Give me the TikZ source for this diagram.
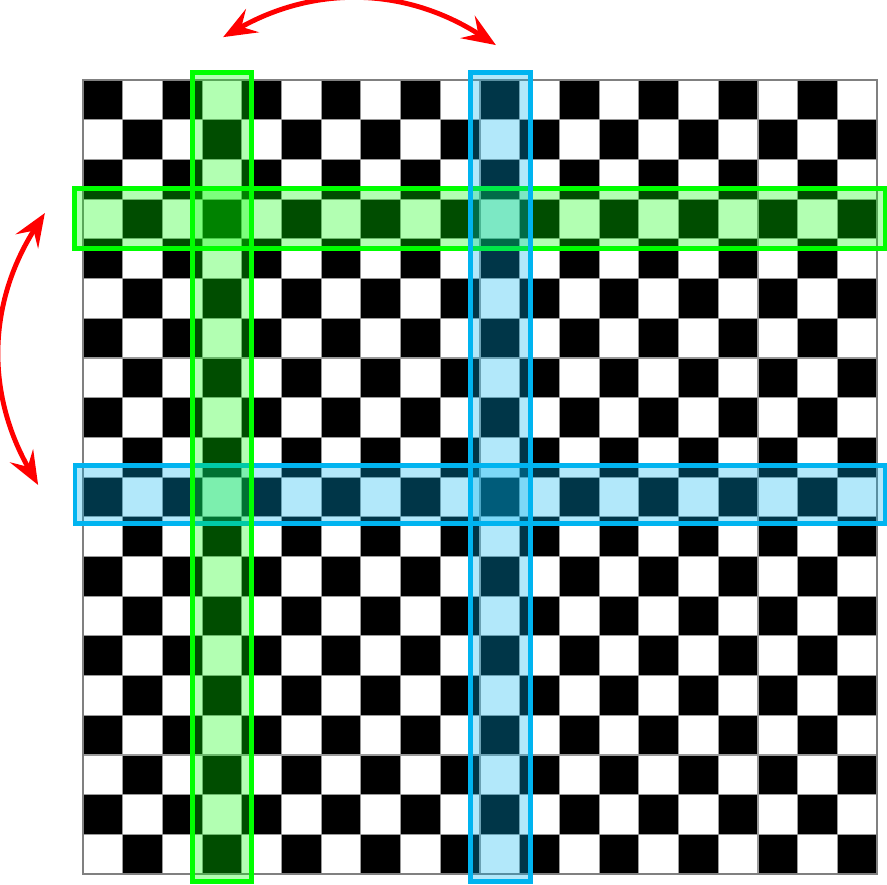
\documentclass[tikz,border=0pt]{standalone}
\usetikzlibrary{arrows.meta}
\definecolor{vert}{RGB}{0,255,0}
\definecolor{ciel}{RGB}{0,180,240}
\definecolor{rouge}{RGB}{255,0,0}
\definecolor{gris}{RGB}{128,128,128}

\begin{document}
\begin{tikzpicture}[x=0.5cm,y=0.5cm,
		bande/.style={line width=1.75pt,fill opacity=0.3},
		echange/.style={rouge,line width=1.75pt,>={Stealth[length=12pt,width=9.5pt,inset=4.5pt]},<->}]
				\useasboundingbox (-2.09,-20.25) rectangle (20.25,2.015);
				\foreach \i in {0,...,19}
				\foreach \j in {0,...,19}{
					\pgfmathparse{int(mod(\i+\j,2))}
					\ifnum\pgfmathresult=0 \fill[black] (\i,-\j) rectangle ++(1,-1);\fi
				}
				\foreach \x in {1,...,19}
				\draw[gris!80,line width=0.4pt] (\x,0)--(\x,-20);
				\foreach \y in {1,...,19}
				\draw[gris!80,line width=0.4pt] (0,-\y)--(20,-\y);
				\draw[gris,line width=0.7pt] (0,0) rectangle (20,-20);
				
				\draw[bande,vert,fill=vert] (-0.21,-2.74) rectangle (20.2,-4.24);
				\draw[bande,ciel,fill=ciel] (-0.2,-9.7) rectangle (20.2,-11.18);
				\draw[bande,vert,fill=vert] (2.75,0.2) rectangle (4.25,-20.18);
				\draw[bande,ciel,fill=ciel] (9.77,0.2) rectangle (11.27,-20.18);
				
				\coordinate (colA) at (3.53,1.08);
				\coordinate (colB) at (10.40,0.88);
				\draw[echange] (colA) to[bend left=31] (colB);
				
				\coordinate (ligA) at (-0.96,-3.35);
				\coordinate (ligB) at (-1.13,-10.2);
				\draw[echange] (ligA) to[bend right=31] (ligB);
\end{tikzpicture}
\end{document}
